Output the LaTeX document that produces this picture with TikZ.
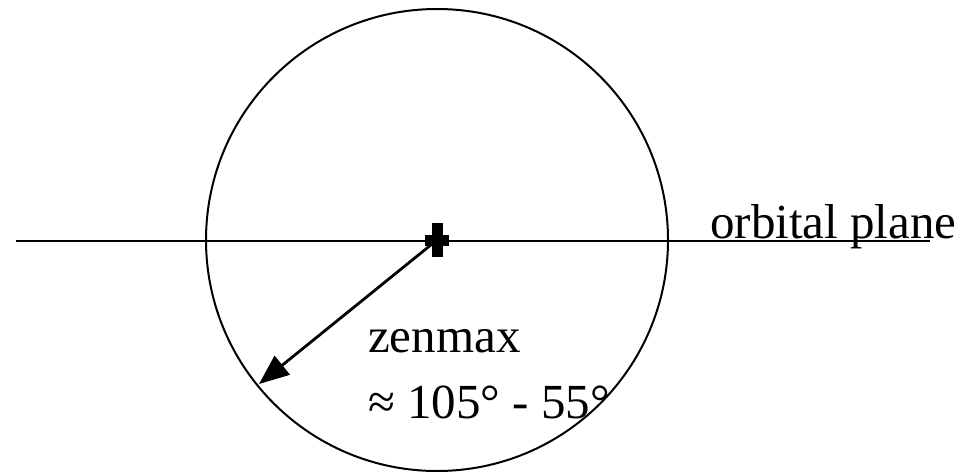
\documentclass[tikz,border=0pt]{standalone}
\usepackage{fontspec}
\setmainfont{Liberation Serif}
\usetikzlibrary{arrows.meta, calc}

\tikzset{
  lbl/.style={anchor=base west, inner sep=0pt, font=\fontsize{49}{59}\selectfont},
}

\begin{document}
\begin{tikzpicture}[x=1pt, y=-1pt]
\useasboundingbox (0,0) rectangle (973,471);

% Orbit and orbital plane
\coordinate (ctr) at (437,240);
\coordinate (tip) at (259,384);
\draw[line width=2pt] (ctr) circle (231);
\draw[line width=2pt] (16,241) -- (930,241);
\node[lbl] (plane) at (710,238) {orbital plane};

% Centre mark
\fill ($(ctr)+(-12,-5.5)$) rectangle ($(ctr)+(12,5.5)$);
\fill ($(ctr)+(-5.5,-17)$) rectangle ($(ctr)+(5.5,17)$);

% Zenith radius
\draw[line width=2.8pt, -{Triangle[length=30pt, width=24pt]}] (ctr) -- (tip);
\node[lbl] (zen) at (368,352) {zenmax};
\node[lbl] (rng) at (368,418) {≈ 105° - 55°};
\end{tikzpicture}
\end{document}
